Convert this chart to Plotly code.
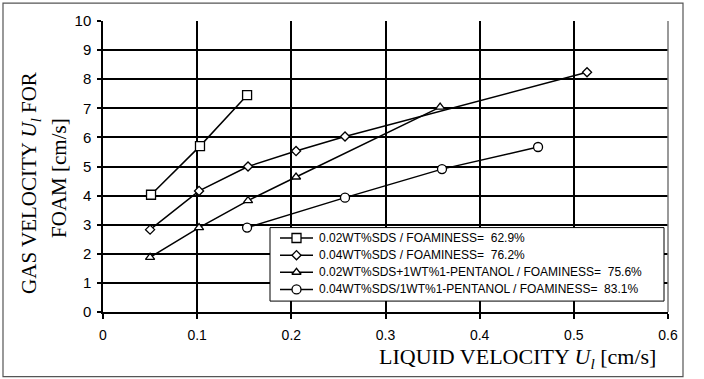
import plotly.graph_objects as go

# Data
sq_x = [0.051, 0.103, 0.153]
sq_y = [4.03, 5.70, 7.45]
di_x = [0.050, 0.102, 0.154, 0.205, 0.257, 0.514]
di_y = [2.83, 4.16, 5.00, 5.53, 6.03, 8.24]
tr_x = [0.050, 0.102, 0.154, 0.205, 0.358]
tr_y = [1.88, 2.90, 3.83, 4.64, 7.04]
ci_x = [0.153, 0.257, 0.360, 0.462]
ci_y = [2.90, 3.93, 4.91, 5.67]

names = [
    "0.02WT%SDS / FOAMINESS=\u00a0 62.9%",
    "0.04WT%SDS / FOAMINESS=\u00a0 76.2%",
    "0.02WT%SDS+1WT%1-PENTANOL / FOAMINESS=\u00a0 75.6%",
    "0.04WT%SDS/1WT%1-PENTANOL / FOAMINESS=\u00a0 83.1%",
]
x_ticks = [0, 0.1, 0.2, 0.3, 0.4, 0.5, 0.6]
x_labels = ["0", "0.1", "0.2", "0.3", "0.4", "0.5", "0.6"]
y_ticks = list(range(0, 11))

series = [
    (sq_x, sq_y, "square", 9),
    (di_x, di_y, "diamond", 7),
    (tr_x, tr_y, "triangle-up", 8),
    (ci_x, ci_y, "circle", 9),
]

W, H = 704, 379
L, R, T, B = 103, 36, 19, 67
pw, ph = W - L - R, H - T - B

def px(x):
    return (x - L) / pw

def py(y):
    return (H - B - y) / ph

fig = go.Figure()
for (xs, ys, sym, sz), nm in zip(series, names):
    fig.add_trace(go.Scatter(
        x=xs, y=ys, mode="lines+markers", name=nm, showlegend=False,
        line=dict(color="black", width=1.5),
        marker=dict(symbol=sym, size=sz, color="white",
                    line=dict(color="black", width=1.3)),
    ))

# Legend drawn on a pixel-unit overlay axis (layout only)
LG_X0, LG_X1, LG_Y0, LG_Y1 = 270, 664, 227, 301
row_y = [237.5, 254.8, 272.0, 289.3]
line_x0, line_x1, text_x = 280, 313, 317
fig.add_trace(go.Scatter(
    x=[LG_X0, LG_X1, LG_X1, LG_X0, LG_X0], y=[LG_Y0, LG_Y0, LG_Y1, LG_Y1, LG_Y0],
    xaxis="x2", yaxis="y2", mode="lines", fill="toself", fillcolor="white",
    line=dict(color="black", width=1), showlegend=False, hoverinfo="skip",
))
for (xs, ys, sym, sz), nm, ry in zip(series, names, row_y):
    fig.add_trace(go.Scatter(
        x=[line_x0, line_x1], y=[ry, ry], xaxis="x2", yaxis="y2", mode="lines",
        line=dict(color="black", width=1.5), showlegend=False, hoverinfo="skip",
    ))
    fig.add_trace(go.Scatter(
        x=[(line_x0 + line_x1) / 2], y=[ry], xaxis="x2", yaxis="y2", mode="markers",
        marker=dict(symbol=sym, size=sz, color="white", line=dict(color="black", width=1.3)),
        showlegend=False, hoverinfo="skip",
    ))
    fig.add_annotation(
        x=text_x, y=ry, xref="x2", yref="y2", text=nm, showarrow=False,
        xanchor="left", yanchor="middle",
        font=dict(family="Liberation Sans, Arial, sans-serif", size=12, color="black"),
    )

sans = "Liberation Sans, Arial, sans-serif"
fig.update_layout(
    width=W, height=H,
    margin=dict(l=L, r=R, t=T, b=B),
    paper_bgcolor="white", plot_bgcolor="white",
    showlegend=False,
    xaxis=dict(
        range=[0, 0.6], tickvals=x_ticks, ticktext=x_labels,
        showgrid=True, gridcolor="black", gridwidth=1.5,
        showline=True, linecolor="black", linewidth=1.5,
        ticks="outside", ticklen=5, tickwidth=1.5, tickcolor="black",
        tickfont=dict(family=sans, size=14, color="black"),
        ticklabelstandoff=4, zeroline=False,
    ),
    yaxis=dict(
        range=[0, 10], tickvals=y_ticks,
        showgrid=True, gridcolor="black", gridwidth=1.5,
        showline=True, linecolor="black", linewidth=1.5,
        ticks="outside", ticklen=4, tickwidth=1.5, tickcolor="black",
        tickfont=dict(family=sans, size=15, color="black"),
        ticklabelstandoff=3, zeroline=False,
    ),
    xaxis2=dict(overlaying="x", range=[L, W - R], visible=False, fixedrange=True),
    yaxis2=dict(overlaying="y", range=[H - B, T], visible=False, fixedrange=True),
    shapes=[
        dict(type="rect", xref="paper", yref="paper",
             x0=px(3), x1=px(683), y0=py(377), y1=py(1),
             line=dict(color="#555555", width=1.2), layer="below"),
        dict(type="line", xref="paper", yref="paper",
             x0=1, x1=1, y0=0, y1=1,
             line=dict(color="#777777", width=1.5)),
    ],
)

title_font = dict(family="Liberation Serif, Times New Roman, serif", size=22, color="black")
fig.add_annotation(
    x=px(517), y=py(358), xref="paper", yref="paper",
    text="LIQUID VELOCITY <i>U</i><sub><i>l</i></sub> [cm/s]",
    showarrow=False, font=title_font, xanchor="center", yanchor="middle",
)
fig.add_annotation(
    x=px(30), y=py(182), xref="paper", yref="paper",
    text="GAS VELOCITY <i>U</i><sub><i>l</i></sub> FOR",
    showarrow=False, font=dict(title_font, size=21), textangle=-90,
    xanchor="center", yanchor="middle",
)
fig.add_annotation(
    x=px(59), y=py(177), xref="paper", yref="paper",
    text="FOAM [cm/s]",
    showarrow=False, font=dict(title_font, size=21), textangle=-90,
    xanchor="center", yanchor="middle",
)

fig.write_html("out.html")
